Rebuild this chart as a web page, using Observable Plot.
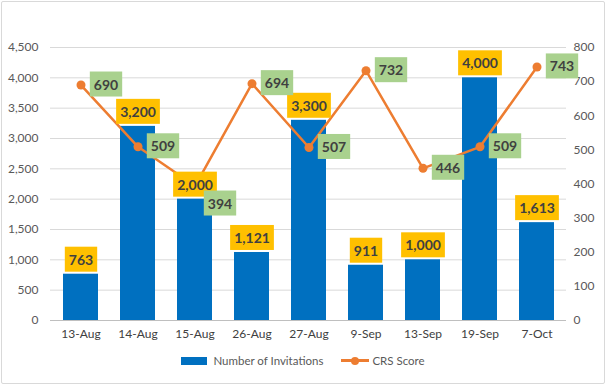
<!DOCTYPE html>
<html>
<head>
<meta charset="utf-8">
<script src="https://cdn.jsdelivr.net/npm/d3@7"></script>
<script src="https://cdn.jsdelivr.net/npm/@observablehq/plot@0.6"></script>
<style>
  html, body { margin: 0; padding: 0; background: #fff; }
  #wrap { position: relative; width: 606px; height: 386px; overflow: hidden; font-family: Lato, sans-serif; }
  #frame { position: absolute; left: 1px; top: 1px; width: 602px; height: 381px; border: 1px solid #d9d9d9; border-radius: 2px; pointer-events: none; }
  #chart { position: absolute; left: 0; top: 0; }
  #legend { position: absolute; left: 0; top: 354px; width: 606px; display: flex; justify-content: center; align-items: center; font-size: 11.5px; color: #595959; }
  .sw-bar { display: inline-block; width: 26px; height: 8px; background: #0070C0; margin-right: 6px; }
  .sw-line { display: inline-block; position: relative; width: 28px; height: 3px; background: #ED7D31; margin-left: 18px; margin-right: 3px; }
  .sw-line::after { content: ""; position: absolute; left: 10px; top: -2.5px; width: 8px; height: 8px; border-radius: 50%; background: #ED7D31; }
</style>
</head>
<body>
<div id="wrap">
  <div id="chart"></div>
  <div id="legend"><span class="sw-bar"></span><span>Number of Invitations</span><span class="sw-line"></span><span>CRS Score</span></div>
  <div id="frame"></div>
</div>
<script>
const dates = ["13-Aug","14-Aug","15-Aug","26-Aug","27-Aug","9-Sep","13-Sep","19-Sep","7-Oct"];
const invitations = [763, 3200, 2000, 1121, 3300, 911, 1000, 4000, 1613];
const crsScore = [690, 509, 394, 694, 507, 732, 446, 509, 743];
const leftTicks = [0, 500, 1000, 1500, 2000, 2500, 3000, 3500, 4000, 4500];
const rightTicks = [0, 100, 200, 300, 400, 500, 600, 700, 800];

const leftMax = 4500, rightMax = 800;
const k = leftMax / rightMax;
const rows = dates.map((d, i) => ({date: d, inv: invitations[i], crs: crsScore[i], crsY: crsScore[i] * k}));
const fmt = d3.format(",");

const chart = Plot.plot({
  width: 606,
  height: 345,
  marginTop: 47,
  marginBottom: 25,
  marginLeft: 50,
  marginRight: 40,
  style: {fontFamily: "Lato, sans-serif", fontSize: "12px", color: "#595959", background: "transparent"},
  x: {domain: dates, paddingInner: 0.39, paddingOuter: 0.195, label: null},
  y: {domain: [0, leftMax], label: null},
  marks: [
    Plot.gridY(leftTicks, {stroke: "#d9d9d9", strokeOpacity: 1}),
    Plot.axisY(leftTicks, {anchor: "left", tickSize: 0, tickPadding: 12, tickFormat: fmt, label: null, fill: "#595959"}),
    Plot.axisY(rightTicks.map(v => v * k), {anchor: "right", tickSize: 0, tickPadding: 7, tickFormat: v => String(Math.round(v / k)), label: null, fill: "#595959", textAnchor: "start"}),
    Plot.axisX({tickSize: 0, tickPadding: 9, label: null, fill: "#404040", fontSize: 12}),
    Plot.barY(rows, {x: "date", y: "inv", fill: "#0070C0"}),
    Plot.ruleY([0], {stroke: "#bfbfbf", strokeWidth: 1}),
    Plot.lineY(rows, {x: "date", y: "crsY", stroke: "#ED7D31", strokeWidth: 2.5}),
    Plot.dot(rows, {x: "date", y: "crsY", r: 4.5, fill: "#ED7D31"}),
    Plot.text(rows, {x: "date", y: "inv", text: d => fmt(d.inv), dy: -14, fill: "#404040", fontWeight: "bold", fontSize: 14, className: "barlab"}),
    Plot.text(rows, {x: "date", y: "crsY", text: d => String(d.crs), dx: 25, fill: "#404040", fontWeight: "bold", fontSize: 14, className: "linelab"})
  ]
});
document.getElementById("chart").append(chart);

function getTexts(cls) {
  let texts = chart.querySelectorAll(`g.${cls} text`);
  if (!texts.length) texts = chart.querySelectorAll(`.${cls} text`);
  return Array.from(texts);
}
const barTexts = getTexts("barlab");
const lineTexts = getTexts("linelab");

// Nudge line labels downward when their text collides with a bar label's text
function overlaps(a, b) {
  return a.left < b.right + 1 && a.right > b.left - 1 && a.top < b.bottom + 1 && a.bottom > b.top - 1;
}
lineTexts.forEach(t => {
  const base = t.getAttribute("transform") || "";
  let shift = 0;
  for (let n = 0; n < 40; n++) {
    const r = t.getBoundingClientRect();
    if (!barTexts.some(b => overlaps(r, b.getBoundingClientRect()))) break;
    shift += 1;
    t.setAttribute("transform", `translate(0,${shift}) ${base}`.trim());
  }
});

function boxLabels(texts, color) {
  texts.forEach(t => {
    const bb = t.getBBox();
    const cy = bb.y + bb.height / 2;
    const r = document.createElementNS("http://www.w3.org/2000/svg", "rect");
    r.setAttribute("x", bb.x - 4);
    r.setAttribute("width", bb.width + 8);
    r.setAttribute("y", cy - 12.5);
    r.setAttribute("height", 25);
    r.setAttribute("fill", color);
    const tr = t.getAttribute("transform");
    if (tr) r.setAttribute("transform", tr);
    t.parentNode.insertBefore(r, t);
  });
}
boxLabels(barTexts, "#FFC000");
boxLabels(lineTexts, "#A9D18E");
</script>
</body>
</html>
